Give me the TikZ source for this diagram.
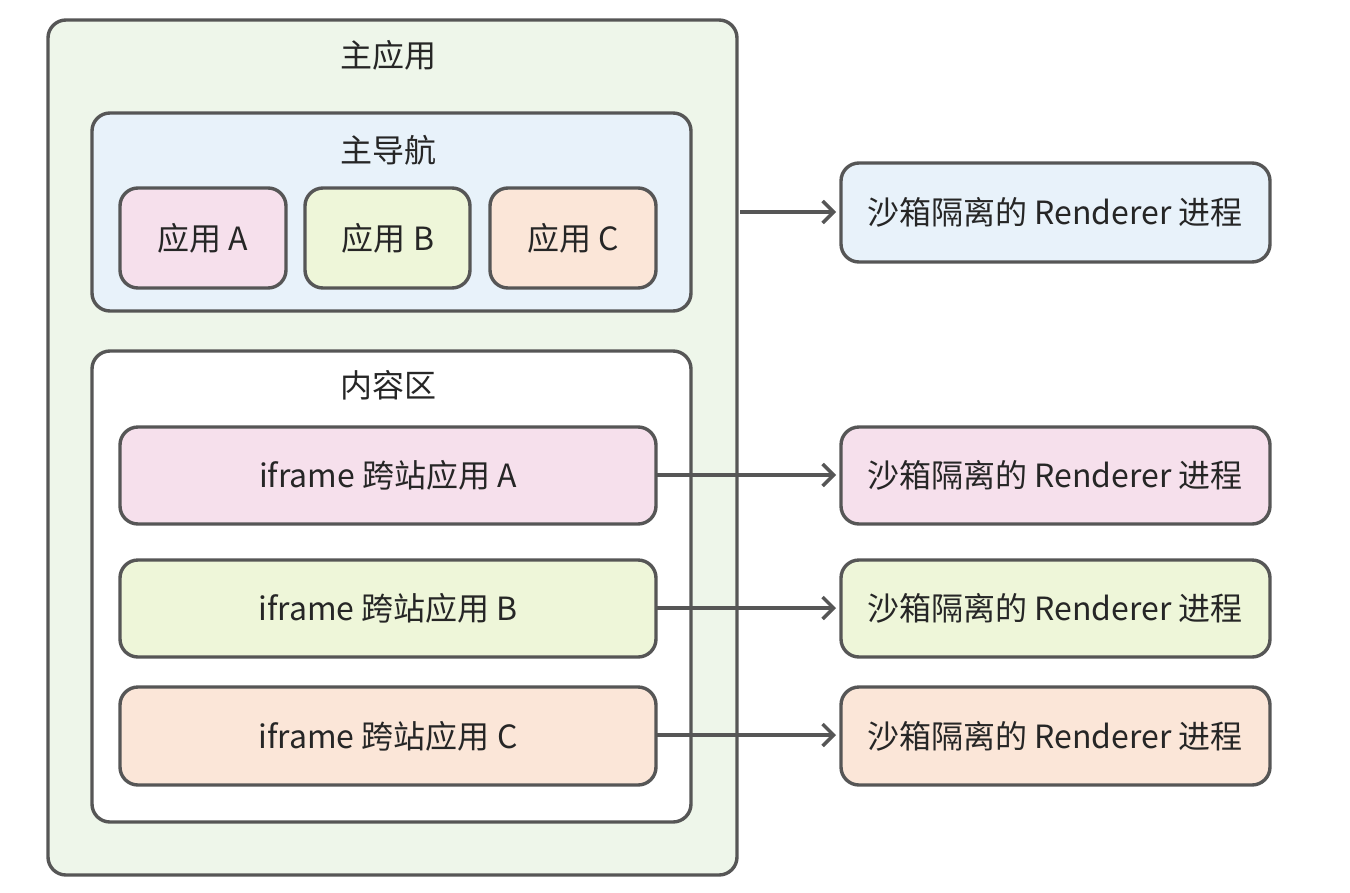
\documentclass[tikz,border=0pt]{standalone}
\usepackage{fontspec}
\setmainfont{Noto Sans CJK SC}
\usetikzlibrary{arrows.meta}
\definecolor{bordergray}{HTML}{565656}
\definecolor{maingreen}{HTML}{EEF6EA}
\definecolor{navblue}{HTML}{E8F2FA}
\definecolor{apppink}{HTML}{F6E0EC}
\definecolor{appgreen}{HTML}{EEF6D9}
\definecolor{apppeach}{HTML}{FBE6D8}
\definecolor{textgray}{HTML}{262626}
\tikzset{
  boxstyle/.style={draw=bordergray, line width=3.4pt, rounded corners=18pt},
  lbl/.style={font=\fontsize{32}{38}\selectfont, text=textgray},
  conn/.style={draw=bordergray, line width=3.4pt, -{Straight Barb[length=11pt,width=22pt,line width=3.4pt]}},
}
\begin{document}
\begin{tikzpicture}[x=1pt,y=-1pt]
\useasboundingbox (0,0) rectangle (1350,892);
% main app
\draw[boxstyle, fill=maingreen] (48,20) rectangle (737,875);
\coordinate (mainR) at (740,212);
\node[lbl] (maint) at (388,55) {主应用};
% navigation
\draw[boxstyle, fill=navblue] (92,113) rectangle (691,311);
\node[lbl] (navt) at (388,150) {主导航};
\draw[boxstyle, fill=apppink] (120,188) rectangle (286,288);
\node[lbl] (appa) at (203,238) {应用 A};
\draw[boxstyle, fill=appgreen] (305,188) rectangle (470,288);
\node[lbl] (appb) at (388,238) {应用 B};
\draw[boxstyle, fill=apppeach] (490,188) rectangle (656,288);
\node[lbl] (appc) at (573,238) {应用 C};
% content area
\draw[boxstyle, fill=white] (92,351) rectangle (691,822);
\node[lbl] (cont) at (388,385) {内容区};
\draw[boxstyle, fill=apppink] (120,427) rectangle (656,524);
\node[lbl] (ifa) at (388,475) {iframe 跨站应用 A};
\draw[boxstyle, fill=appgreen] (120,560) rectangle (656,657);
\node[lbl] (ifb) at (388,608) {iframe 跨站应用 B};
\draw[boxstyle, fill=apppeach] (120,687) rectangle (656,785);
\node[lbl] (ifc) at (388,736) {iframe 跨站应用 C};
\coordinate (ifaR) at (656,475);
\coordinate (ifbR) at (656,608);
\coordinate (ifcR) at (656,735);
% renderer boxes
\draw[boxstyle, fill=navblue] (841,163) rectangle (1270,262);
\node[lbl] (r0) at (1055,212) {沙箱隔离的 Renderer 进程};
\draw[boxstyle, fill=apppink] (841,427) rectangle (1270,524);
\node[lbl] (r1) at (1055,475) {沙箱隔离的 Renderer 进程};
\draw[boxstyle, fill=appgreen] (841,560) rectangle (1270,657);
\node[lbl] (r2) at (1055,608) {沙箱隔离的 Renderer 进程};
\draw[boxstyle, fill=apppeach] (841,687) rectangle (1270,785);
\node[lbl] (r3) at (1055,736) {沙箱隔离的 Renderer 进程};
\coordinate (r0L) at (836,212);
\coordinate (r1L) at (836,475);
\coordinate (r2L) at (836,608);
\coordinate (r3L) at (836,735);
% connectors
\draw[conn] (mainR) -- (r0L);
\draw[conn] (ifaR) -- (r1L);
\draw[conn] (ifbR) -- (r2L);
\draw[conn] (ifcR) -- (r3L);
\end{tikzpicture}
\end{document}
